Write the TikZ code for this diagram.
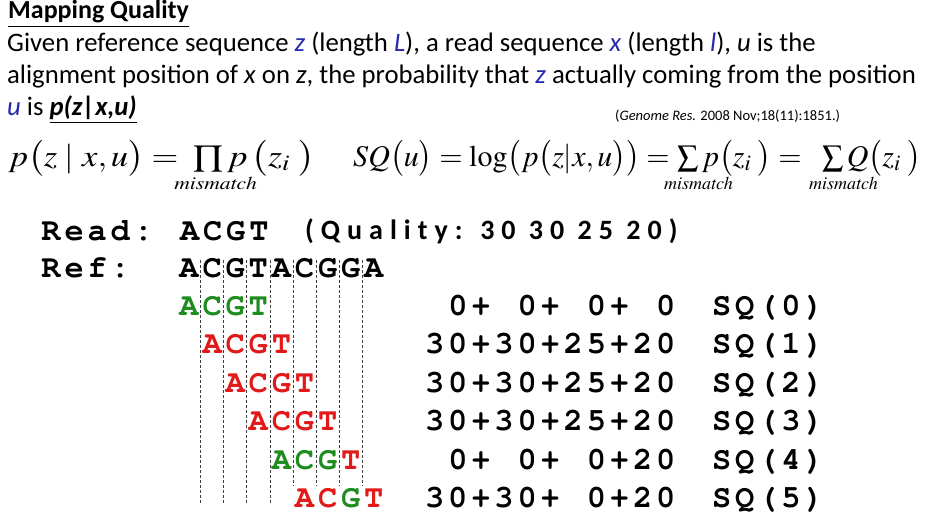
\documentclass[tikz,border=0pt]{standalone}
\usepackage{mathptmx}
\usepackage[T1]{fontenc}
\usepackage[no-math]{fontspec}
\setmainfont{Carlito}
\newfontfamily\qualfont[LetterSpace=25]{Carlito}
\usetikzlibrary{calc}

\definecolor{varblue}{RGB}{40,40,175}
\definecolor{hitgreen}{RGB}{30,140,30}
\definecolor{missred}{RGB}{225,25,25}

% bold courier, one character per cell
\newcommand{\courbf}{\fontencoding{T1}\fontfamily{pcr}\fontseries{b}\fontshape{n}\fontsize{32}{32}\selectfont}
\makeatletter
\newcommand{\spread}[1]{\@tfor\c:=#1\do{\makebox[23.1pt]{\c}}}
\makeatother
% subscript under a big operator, shifted sideways
\newcommand{\under}[1]{\rlap{\hspace{#1}$\scriptscriptstyle\mathit{mismatch}$}}

\begin{document}
\begin{tikzpicture}[x=1pt,y=-1pt,
    every node/.style={inner sep=0pt},
    txt/.style={anchor=base west, font=\fontsize{26.7}{32}\selectfont},
    seq/.style={anchor=base, font=\courbf},
    mono/.style={anchor=base west, font=\courbf},
    formula/.style={anchor=base west, font=\fontsize{30}{32}\selectfont},
    guide/.style={dash pattern=on 3pt off 2pt, line width=0.7pt, black!75}
  ]
  \useasboundingbox (0,0) rectangle (926,525);

  % title and text
  \node[anchor=base west, font=\fontsize{26}{30}\selectfont\bfseries] (title) at (8,18) {\underline{Mapping Quality}};
  \node[txt] (line1) at (7,51) {Given reference sequence \textcolor{varblue}{\textit{z}} (length \textcolor{varblue}{\textit{L}}), a read sequence \textcolor{varblue}{\textit{x}} (length \textcolor{varblue}{\textit{l}}), \textit{u} is the};
  \node[txt] (line2) at (7,83) {alignment position of \textit{x} on \textit{z}, the probability that \textcolor{varblue}{\textit{z}} actually coming from the position};
  \node[txt] (line3) at (7,115) {\textcolor{varblue}{\textit{u}} is \textbf{\textit{\underline{p(z|x,u)}}}};
  \node[anchor=base west, font=\fontsize{14.5}{16}\selectfont] (cite) at (615,120) {(\textit{Genome Res.} 2008 Nov;18(11):1851.)};

  % formulas
  \node[formula] (probL) at (8,166) {\scalebox{1.15}[1]{$p\bigl(z\;|\;x,u\bigr)=$}};
  \node[formula] (probR) at (193,166) {\scalebox{1.2}[1]{$\prod\limits_{\under{-1.6pt}} p\,\bigl(z_{i}\;\bigr)$}};
  \node[formula] (sqA) at (353,166) {$SQ\bigl(u\bigr)=\log\bigl(p\bigl(z|x,u\bigr)\bigr)=$};
  \node[formula] (sqB) at (677,166) {$\sum\limits_{\under{4pt}} p\bigl(z_{i}\;\bigr)=$};
  \node[formula] (sqC) at (822,166) {$\sum\limits_{\under{4pt}} Q\bigl(z_{i}\;\bigr)$};

  % read and reference
  \node[mono] (read) at (39.3,240) {\spread{Read:~ACGT}};
  \node[anchor=base west, font={\qualfont\bfseries\fontsize{28}{28}\selectfont}] (qual) at (305,239) {(Quality: 30 30 25 20)};
  \node[mono] (reflab) at (39.3,277) {\spread{Ref:}};
  \foreach \b [count=\k from 0] in {A,C,G,T,A,C,G,G,A}
    \node[seq] (ref\k) at ({189+23.1*\k},277) {\b};

  % dotted guides between reference letters
  \foreach \k/\yend [evaluate=\k as \n using int(\k+1)] in {0/503,1/503,2/503,3/503,4/486,5/486,6/486,7/486}
    \draw[guide] ($(ref\k.base east)!.5!(ref\n.base west)$) ++(0,-17) coordinate (top\k)
      -- (top\k |- 0,\yend) coordinate (bot\k);

  % the read at every shift u
  \foreach \u/\ca/\cc/\cg/\ct in {0/hitgreen/hitgreen/hitgreen/hitgreen,
      1/missred/missred/missred/missred, 2/missred/missred/missred/missred,
      3/missred/missred/missred/missred, 4/hitgreen/hitgreen/hitgreen/missred,
      5/missred/missred/hitgreen/missred}{
    \node[seq, text=\ca] (a\u) at ({189+23.1*\u},{315+38.5*\u}) {A};
    \node[seq, text=\cc] (c\u) at ({189+23.1*(\u+1)},{315+38.5*\u}) {C};
    \node[seq, text=\cg] (g\u) at ({189+23.1*(\u+2)},{315+38.5*\u}) {G};
    \node[seq, text=\ct] (t\u) at ({189+23.1*(\u+3)},{315+38.5*\u}) {T};
  }

  % scores
  \foreach \u/\score in {0/~0+~0+~0+~0, 1/30+30+25+20, 2/30+30+25+20,
      3/30+30+25+20, 4/~0+~0+~0+20, 5/30+30+~0+20}{
    \node[mono] (sum\u) at (423,{315+38.5*\u}) {\expandafter\spread\expandafter{\score}};
    \node[mono] (sq\u) at (710,{315+38.5*\u}) {\spread{SQ(\u)}};
  }
\end{tikzpicture}
\end{document}
